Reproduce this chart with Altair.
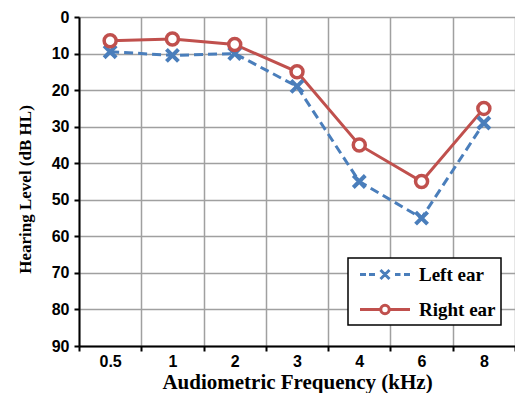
import altair as alt
import pandas as pd

# ---- data ----
freqs = ["0.5", "1", "2", "3", "4", "6", "8"]
left_ear = [9.5, 10.5, 10, 19, 45, 55, 29]
right_ear = [6.5, 6, 7.5, 15, 35, 45, 25]
series = ["Left ear", "Right ear"]
y_ticks = [0, 10, 20, 30, 40, 50, 60, 70, 80, 90]

BLUE = "#4a7ebb"
RED = "#c0504d"

df = pd.DataFrame({
    "freq": freqs * 2,
    "level": left_ear + right_ear,
    "ear": [series[0]] * len(freqs) + [series[1]] * len(freqs),
})

# marker and legend-symbol glyphs (SVG paths in unit coordinates)
X_PATH = "M-1,-1L1,1M-1,1L1,-1"
LEG_LEFT = ("M-0.45,0H0.15M0.45,0H1.05"
            "M1.6,-0.45L2.5,0.45M1.6,0.45L2.5,-0.45"
            "M3.05,0H3.6M3.95,0H4.55")
LEG_RIGHT = ("M-0.45,0H1.63M2.47,0H4.55"
             "M1.63,0A0.42,0.42 0 1,0 2.47,0A0.42,0.42 0 1,0 1.63,0Z")

x_enc = alt.X(
    "freq:N",
    scale=alt.Scale(type="band", domain=freqs, paddingInner=0, paddingOuter=0),
    axis=alt.Axis(
        title="Audiometric Frequency (kHz)",
        titleFont="Liberation Serif", titleFontWeight="bold", titleFontSize=21,
        titleColor="black", titleY=42, titleBaseline="alphabetic",
        labelFont="Liberation Sans", labelFontWeight="bold", labelFontSize=16,
        labelColor="black", labelAngle=0, labelPadding=2,
        tickBand="extent", tickSize=5, tickColor="black", tickWidth=2,
        domainColor="black", domainWidth=2,
        grid=True, gridColor="#a0a0a0", gridWidth=1.5,
    ),
)
y_enc = alt.Y(
    "level:Q",
    scale=alt.Scale(domain=[0, 90], reverse=True, nice=False, zero=False),
    axis=alt.Axis(
        values=y_ticks,
        title="Hearing Level (dB HL)",
        titleFont="Liberation Serif", titleFontWeight="bold", titleFontSize=17,
        titleColor="black", titleAngle=270, titleX=-49, titleY=172,
        titleAlign="center", titleBaseline="alphabetic",
        labelFont="Liberation Sans", labelFontWeight="bold", labelFontSize=16,
        labelColor="black", labelPadding=5,
        tickSize=5, tickColor="black", tickWidth=2,
        domainColor="black", domainWidth=2,
        grid=True, gridColor="#a0a0a0", gridWidth=1.5,
    ),
)

base = alt.Chart(df).encode(x=x_enc, y=y_enc)
left = base.transform_filter(alt.datum.ear == series[0])
right = base.transform_filter(alt.datum.ear == series[1])

left_line = left.mark_line(color=BLUE, strokeWidth=3, strokeDash=[9, 5])
right_line = right.mark_line(color=RED, strokeWidth=3)
left_pts = left.mark_point(shape=X_PATH, size=144, filled=False, color=BLUE,
                           strokeWidth=4, opacity=1)
right_pts = right.mark_point(shape="circle", size=144, filled=True, fill="white",
                             stroke=RED, strokeWidth=3.5, opacity=1)

leg = alt.Legend(
    title=None, orient="none", legendX=269, legendY=241,
    padding=5, rowPadding=13, symbolSize=400, symbolStrokeWidth=3,
    labelOffset=43, labelFont="Liberation Serif", labelFontSize=19,
    labelFontWeight="bold", labelColor="black",
    labelExpr="datum.label + '  '",
    fillColor="white", strokeColor="black",
)
legend_layer = alt.Chart(df).transform_filter("false").mark_point(
    filled=False, strokeWidth=3, opacity=1
).encode(
    color=alt.Color("ear:N", scale=alt.Scale(domain=series, range=[BLUE, RED]), legend=leg),
    shape=alt.Shape("ear:N", scale=alt.Scale(domain=series, range=[LEG_LEFT, LEG_RIGHT]), legend=leg),
)

chart = alt.layer(
    left_line, right_line, left_pts, right_pts, legend_layer
).properties(
    width=436, height=329,
    autosize=alt.AutoSizeParams(type="none"),
    padding={"left": 71, "top": 9, "right": 0, "bottom": 47},
).configure_view(
    stroke=None
).configure_legend(
    strokeWidth=1.5, cornerRadius=0
)

chart.save("out.html", embed_options={"renderer": "svg", "actions": False})
